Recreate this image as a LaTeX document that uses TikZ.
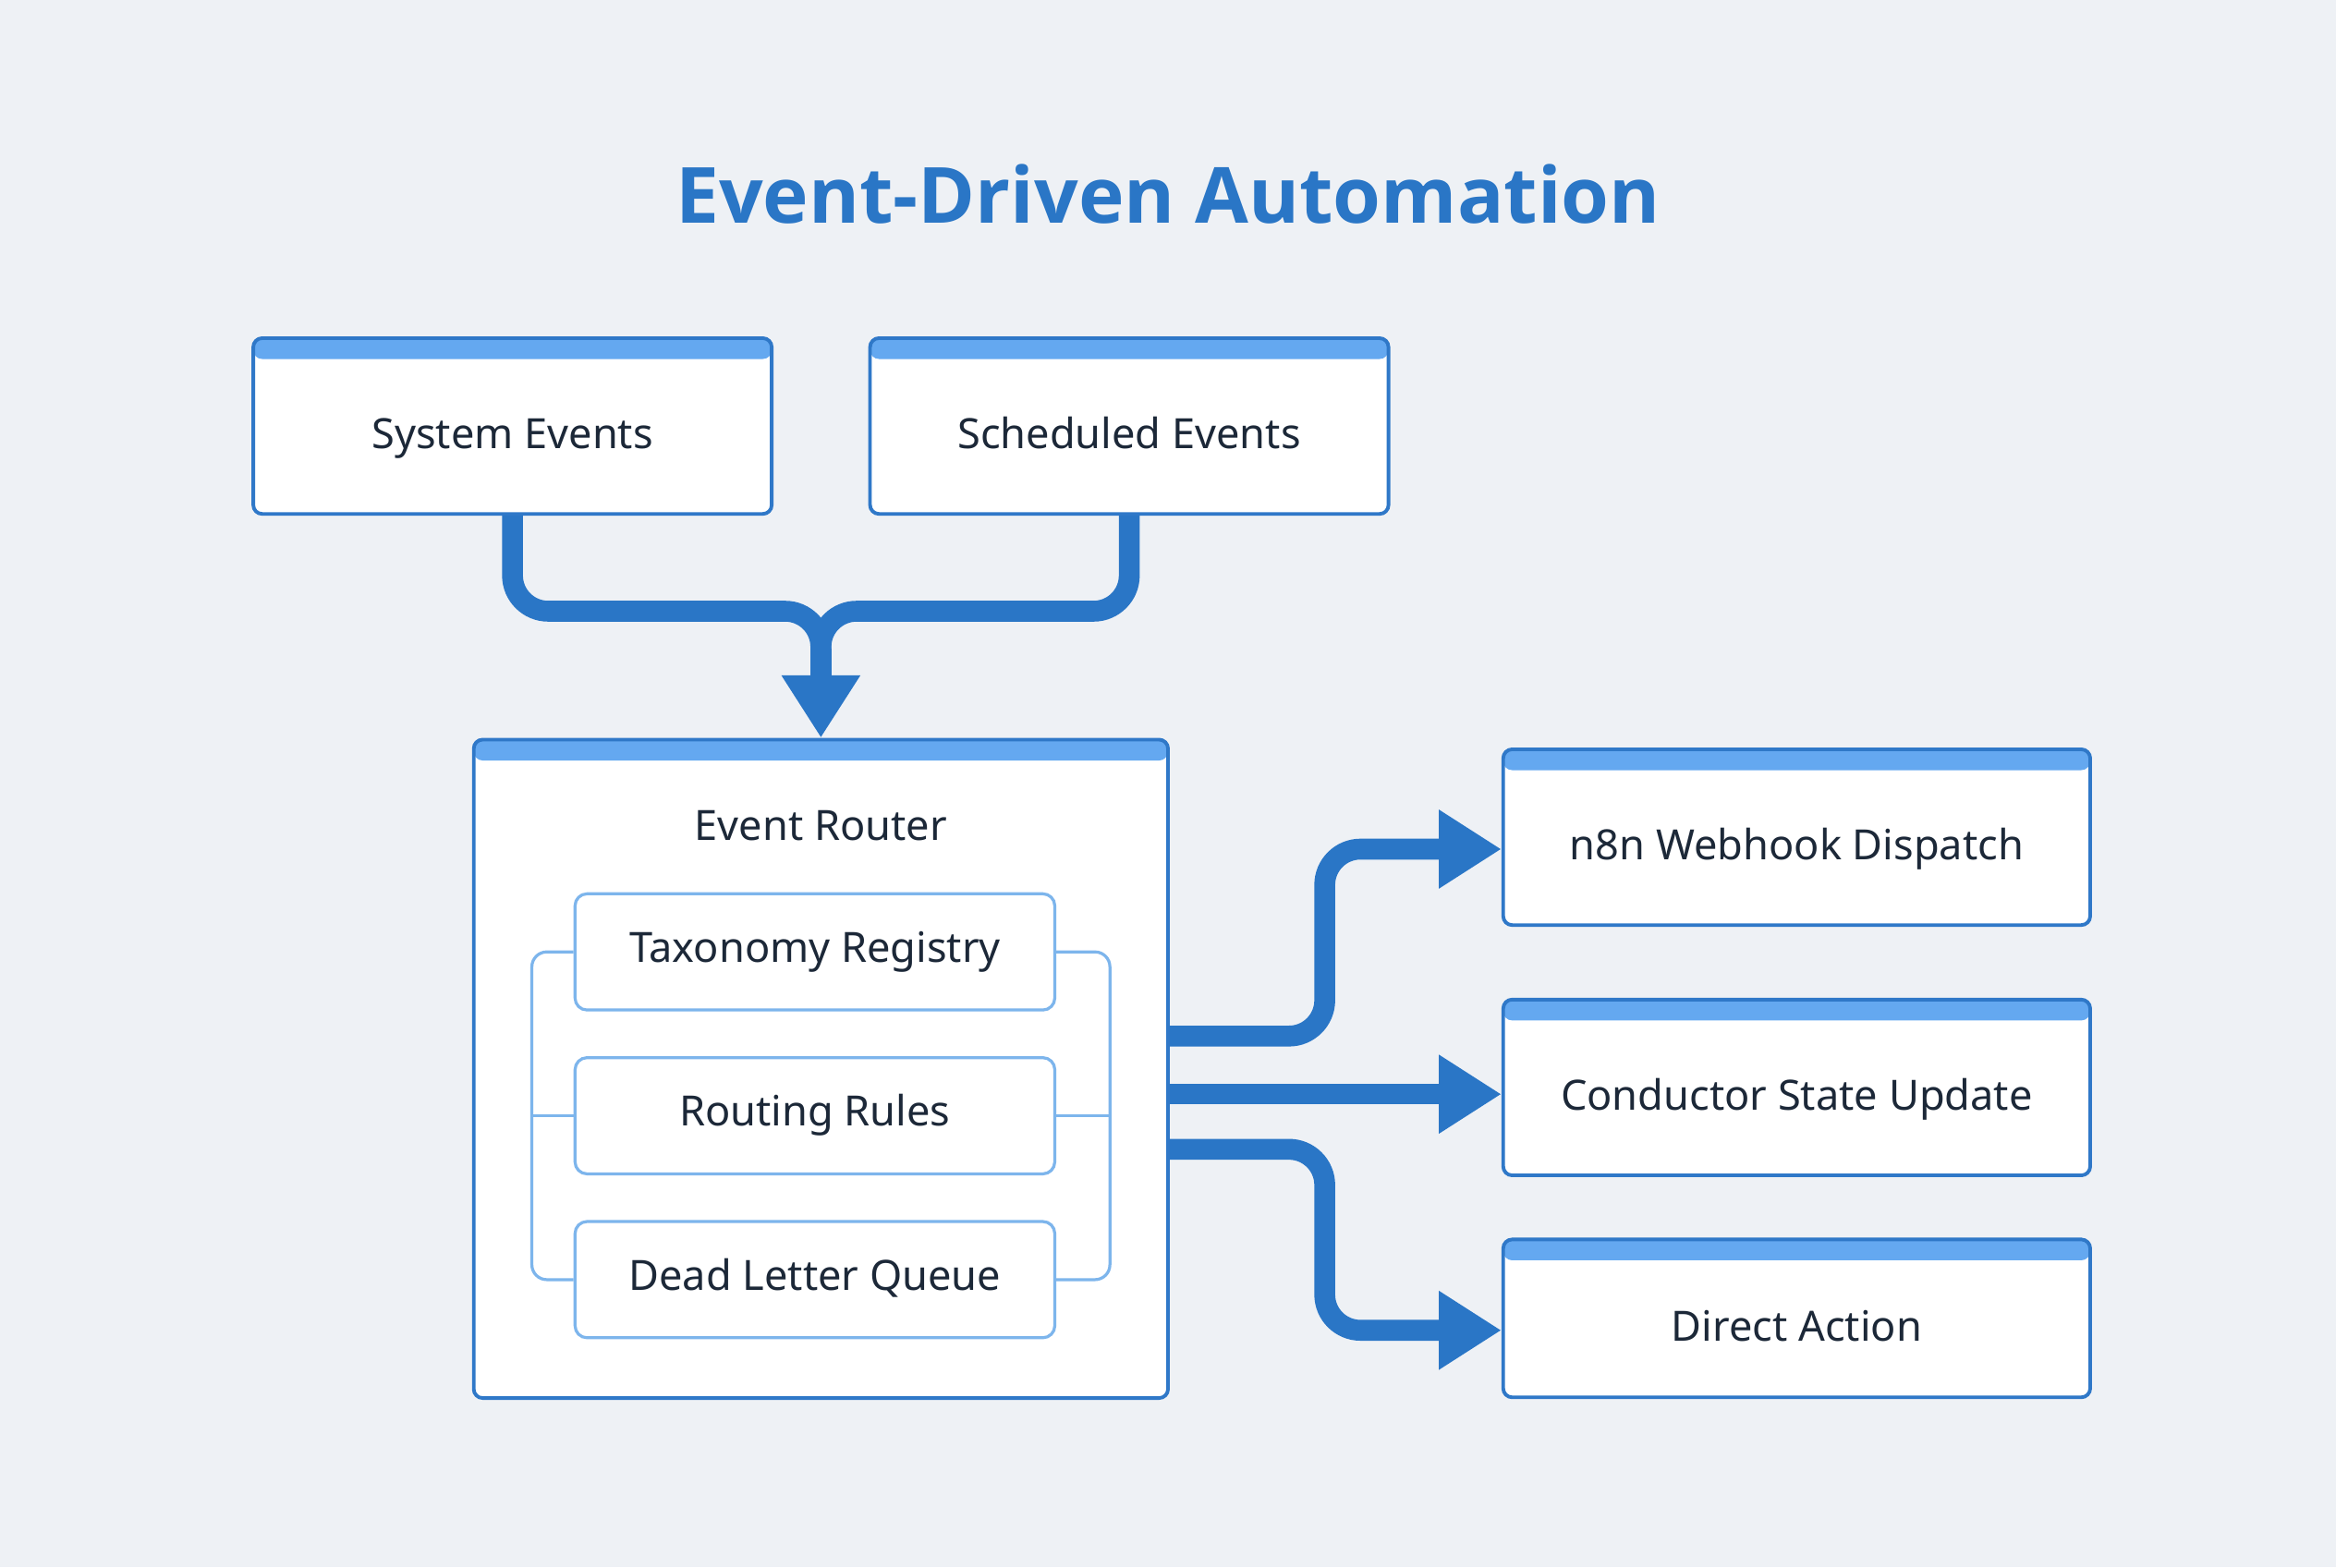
\documentclass[tikz,border=0pt]{standalone}
\usepackage{fontspec}
\setmainfont{Noto Sans}
\newfontfamily\titlefont{Open Sans}
\usetikzlibrary{arrows.meta,calc}
\definecolor{bg}{HTML}{EEF1F5}
\definecolor{edge}{HTML}{2F78C8}
\definecolor{hdr}{HTML}{64A8F0}
\definecolor{txt}{HTML}{1C2838}
\definecolor{inner}{HTML}{7DB5EC}
\definecolor{flow}{HTML}{2A76C6}
\begin{document}
\begin{tikzpicture}[x=0.5pt,y=-0.5pt,
  card/.style={draw=edge,line width=1.2pt,fill=white,rounded corners=3pt,inner sep=0pt,
    path picture={\fill[hdr] (path picture bounding box.north west) rectangle ([yshift=-7pt]path picture bounding box.north east);},
    label={[font=\fontsize{14}{16}\selectfont,text=txt,yshift=-4pt,text height=10pt,text depth=3pt]center:#1}},
  sub/.style={draw=inner,line width=1pt,fill=white,rounded corners=4pt,minimum width=161pt,minimum height=39pt,
    font=\fontsize{14}{16}\selectfont,text=txt,text height=10pt,text depth=3pt},
  brk/.style={draw=inner,line width=1pt,rounded corners=5pt},
  flowl/.style={draw=flow,line width=7pt,rounded corners=12pt},
  tip/.style={-{Triangle[width=25pt,length=21pt]}}]
\fill[bg] (0,0) rectangle (1568,1052);
\useasboundingbox (0,0) rectangle (1568,1052);
\node[font=\titlefont\fontsize{26}{30}\selectfont\bfseries,text=flow] (title) at (784,130) {Event-Driven Automation};
\node[card=System Events,minimum width=174pt,minimum height=59pt] (sys) at (344,286) {};
\node[card=Scheduled Events,minimum width=174pt,minimum height=59pt] (sch) at (758,286) {};
\node[card={},minimum width=233pt,minimum height=221pt] (router) at (551,717.5) {};
\node[font=\fontsize{14}{16}\selectfont,text=txt] (rlabel) at (551,554) {Event Router};
\node[sub] (tax) at (547,639) {Taxonomy Registry};
\node[sub] (rr) at (547,749) {Routing Rules};
\node[sub] (dlq) at (547,859) {Dead Letter Queue};
\draw[brk] (tax.west) -- ++(-28,0) |- (dlq.west);
\draw[brk] (rr.west) -- ++(-28,0);
\draw[brk] (tax.east) -- ++(36,0) |- (dlq.east);
\draw[brk] (rr.east) -- ++(36,0);
\node[card=n8n Webhook Dispatch,minimum width=197pt,minimum height=59pt] (n8n) at (1206,562) {};
\node[card=Conductor State Update,minimum width=197pt,minimum height=59pt] (cond) at (1206,730) {};
\node[card=Direct Action,minimum width=197pt,minimum height=53pt] (direct) at (1206,885) {};
% merge
\coordinate (mid) at ($(router.north)+(0,-85)$);
\draw[flowl] (sys.south) |- (mid) -- ($(router.north)+(0,-40)$);
\draw[flowl] (sch.south) |- (mid) -- ($(router.north)+(0,-40)$);
\draw[flowl,tip] ($(router.north)+(0,-60)$) -- (router.north);
% outputs
\draw[flowl,tip] ($(router.east)+(0,-22)$) -- ++(104,0) |- ([yshift=-4pt]n8n.west);
\draw[flowl,tip] ($(router.east)+(0,17)$) -- (cond.west |- {$(router.east)+(0,17)$});
\draw[flowl,tip] ($(router.east)+(0,54)$) -- ++(104,0) |- ([yshift=-4pt]direct.west);
\end{tikzpicture}
\end{document}
